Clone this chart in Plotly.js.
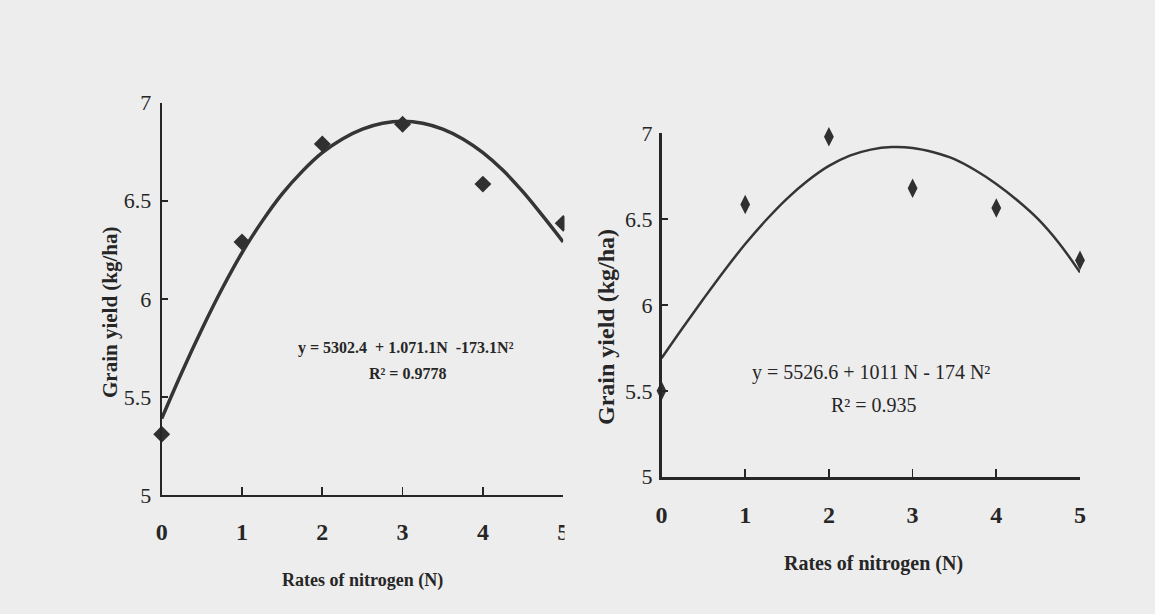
<!DOCTYPE html>
<html>
<head>
<meta charset="utf-8">
<script src="https://cdn.plot.ly/plotly-3.0.1.min.js"></script>
<style>
  html, body { margin: 0; padding: 0; background: #ededed; }
  #chart { width: 1155px; height: 614px; }
</style>
</head>
<body>
<div id="chart"></div>
<script>
// ---- data ----
const nRates = [0, 1, 2, 3, 4, 5];
const xTickText = ['0', '1', '2', '3', '4', '5'];
const yTickVals = [5, 5.5, 6, 6.5, 7];
const yTickText = ['5', '5.5', '6', '6.5', '7'];

// left chart: observed points and drawn trend curve
const yieldLeft = [5.31, 6.29, 6.79, 6.89, 6.585, 6.385];
const fitLeftN = [0, 0.25, 0.5, 0.75, 1, 1.25, 1.5, 1.75, 2, 2.25, 2.5, 2.75, 3, 3.25, 3.5, 3.75, 4, 4.25, 4.5, 4.75, 5];
const fitLeftY = [5.39, 5.625, 5.845, 6.05, 6.235, 6.395, 6.535, 6.65, 6.745, 6.815, 6.865, 6.895, 6.905, 6.895, 6.865, 6.815, 6.745, 6.655, 6.545, 6.42, 6.29];

// right chart: observed points and drawn trend curve
const yieldRight = [5.50, 6.585, 6.98, 6.68, 6.565, 6.26];
const fitRightN = [0, 0.25, 0.5, 0.75, 1, 1.25, 1.5, 1.75, 2, 2.25, 2.5, 2.75, 3, 3.25, 3.5, 3.75, 4, 4.25, 4.5, 4.75, 5];
const fitRightY = [5.69, 5.865, 6.035, 6.20, 6.355, 6.495, 6.62, 6.725, 6.81, 6.87, 6.905, 6.92, 6.915, 6.89, 6.85, 6.785, 6.705, 6.61, 6.50, 6.36, 6.19];

// texts
const yTitleText = 'Grain yield (kg/ha)';
const xTitleText = 'Rates of nitrogen (N)';
const eqLeftText = 'y = 5302.4 \u00a0+ 1.071.1N \u00a0-173.1N\u00b2';
const r2LeftText = 'R\u00b2 = 0.9778';
const eqRightText = 'y = 5526.6 + 1011 N - 174 N\u00b2';
const r2RightText = 'R\u00b2 = 0.935';

// ---- layout helpers (pixel -> paper) ----
const W = 1155, H = 614;
const px = v => v / W;
const py = v => 1 - v / H;

const ink = '#262626';
const bg = '#ededed';
const serif = 'Liberation Serif, Times New Roman, serif';

const traces = [
  { x: fitLeftN, y: fitLeftY, xaxis: 'x', yaxis: 'y', mode: 'lines',
    line: { color: '#353535', width: 3.5, shape: 'spline', smoothing: 1 }, hoverinfo: 'skip' },
  { x: nRates, y: yieldLeft, xaxis: 'x', yaxis: 'y', mode: 'markers', cliponaxis: false,
    marker: { symbol: 'diamond', size: 13, color: '#303030' } },
  { x: fitRightN, y: fitRightY, xaxis: 'x2', yaxis: 'y2', mode: 'lines',
    line: { color: '#353535', width: 2.5, shape: 'spline', smoothing: 1 }, hoverinfo: 'skip' },
  { x: nRates, y: yieldRight, xaxis: 'x2', yaxis: 'y2', mode: 'markers', cliponaxis: false,
    marker: { symbol: 'diamond-tall', size: 14, color: '#303030' } }
];

function xAxis(domain, anchor, lw) {
  return {
    domain: domain, anchor: anchor, range: [0, 5], fixedrange: true,
    tickmode: 'array', tickvals: nRates, ticktext: xTickText,
    ticks: 'inside', ticklen: 8, tickwidth: 1.6, tickcolor: ink,
    showline: true, linewidth: lw, linecolor: ink,
    showgrid: false, zeroline: false,
    ticklabelstandoff: 14,
    tickfont: { family: serif, size: 24, color: ink, weight: 'bold' }
  };
}
function yAxis(domain, anchor, lw, standoff) {
  return {
    domain: domain, anchor: anchor, range: [5, 7], fixedrange: true,
    tickmode: 'array', tickvals: yTickVals, ticktext: yTickText,
    ticks: 'inside', ticklen: 6, tickwidth: 1.6, tickcolor: ink,
    showline: true, linewidth: lw, linecolor: ink,
    showgrid: false, zeroline: false,
    ticklabelstandoff: standoff,
    tickfont: { family: serif, size: 22, color: ink }
  };
}

const layout = {
  width: W, height: H,
  margin: { l: 0, r: 0, t: 0, b: 0 },
  paper_bgcolor: bg, plot_bgcolor: bg,
  showlegend: false,
  xaxis: xAxis([px(161.7), px(563.2)], 'y', 2),
  yaxis: yAxis([py(495), py(102.7)], 'x', 2, 4),
  xaxis2: xAxis([px(661.5), px(1080)], 'y2', 3),
  yaxis2: yAxis([py(476.7), py(133.3)], 'x2', 2.5, 2),
  shapes: [
    // scan edge: the left figure is cut off at its right side
    { type: 'rect', xref: 'paper', yref: 'paper', layer: 'above',
      x0: px(564.5), x1: px(592), y0: py(560), y1: py(90),
      fillcolor: bg, line: { width: 0 } }
  ],
  annotations: [
    { text: yTitleText, xref: 'paper', yref: 'paper', x: px(110), y: py(312),
      textangle: -90, showarrow: false, xanchor: 'center', yanchor: 'middle',
      font: { family: serif, size: 21, color: ink, weight: 'bold' } },
    { text: xTitleText, xref: 'paper', yref: 'paper', x: px(362), y: py(580),
      showarrow: false, xanchor: 'center', yanchor: 'middle',
      font: { family: serif, size: 18, color: ink, weight: 'bold' } },
    { text: eqLeftText, xref: 'x', yref: 'y', x: 3.04, y: 5.748,
      showarrow: false, xanchor: 'center', yanchor: 'middle',
      font: { family: serif, size: 16, color: ink, weight: 'bold' } },
    { text: r2LeftText, xref: 'x', yref: 'y', x: 3.06, y: 5.62,
      showarrow: false, xanchor: 'center', yanchor: 'middle',
      font: { family: serif, size: 16, color: ink, weight: 'bold' } },

    { text: yTitleText, xref: 'paper', yref: 'paper', x: px(606), y: py(327),
      textangle: -90, showarrow: false, xanchor: 'center', yanchor: 'middle',
      font: { family: serif, size: 24, color: ink, weight: 'bold' } },
    { text: xTitleText, xref: 'paper', yref: 'paper', x: px(873), y: py(563),
      showarrow: false, xanchor: 'center', yanchor: 'middle',
      font: { family: serif, size: 20, color: ink, weight: 'bold' } },
    { text: eqRightText, xref: 'x2', yref: 'y2', x: 2.50, y: 5.604,
      showarrow: false, xanchor: 'center', yanchor: 'middle',
      font: { family: serif, size: 20, color: ink } },
    { text: r2RightText, xref: 'x2', yref: 'y2', x: 2.54, y: 5.418,
      showarrow: false, xanchor: 'center', yanchor: 'middle',
      font: { family: serif, size: 20, color: ink } }
  ]
};

Plotly.newPlot('chart', traces, layout, { displayModeBar: false, staticPlot: true });
</script>
</body>
</html>
